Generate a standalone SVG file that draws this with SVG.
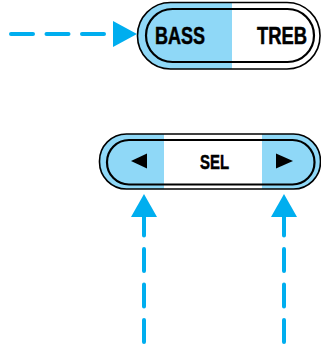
<svg xmlns="http://www.w3.org/2000/svg" width="321" height="347" viewBox="0 0 321 347">
<style>
.outer{fill:none;stroke:#000;stroke-width:1.6}
.inner{fill:none;stroke:#000;stroke-width:2.2}
.blue{fill:#8FD8F7}
.white{fill:#fff}
.lbl{font-family:"Liberation Sans",Arial,sans-serif;font-weight:bold;fill:#000;stroke:#000;stroke-width:0.5}
.conn{fill:none;stroke:#00AEEF;stroke-width:4;stroke-linecap:round;stroke-dasharray:22 13.5}
.head{fill:#00AEEF}
</style>
<defs>
<clipPath id="c1"><rect x="137.5" y="2.5" width="182.5" height="66.5" rx="33" ry="33"/></clipPath>
<clipPath id="c2"><rect x="99.5" y="134" width="221" height="55" rx="27" ry="27"/></clipPath>
</defs>
<g id="bass-treb">
<g clip-path="url(#c1)">
<rect class="blue" x="130" y="0" width="102" height="75"/>
<rect class="white" x="232" y="0" width="95" height="75"/>
</g>
<rect class="outer" x="137.5" y="2.5" width="182.5" height="66.5" rx="33" ry="33"/>
<rect class="inner" x="146" y="9" width="168" height="53" rx="26.5" ry="26.5"/>
<text class="lbl" x="155" y="44.3" font-size="23.5" textLength="50" lengthAdjust="spacingAndGlyphs">BASS</text>
<text class="lbl" x="257" y="44.3" font-size="23.5" textLength="50" lengthAdjust="spacingAndGlyphs">TREB</text>
</g>
<g id="sel">
<g clip-path="url(#c2)">
<rect class="blue" x="95" y="130" width="69" height="65"/>
<rect class="white" x="164" y="130" width="98" height="65"/>
<rect class="blue" x="262" y="130" width="65" height="65"/>
</g>
<rect class="outer" x="99.5" y="134" width="221" height="55" rx="27" ry="27"/>
<rect class="inner" x="107" y="140" width="207.5" height="44.5" rx="22" ry="22"/>
<polygon points="131,161 147,153.5 147,168.5" fill="#000"/>
<polygon points="293,161 276,153.5 276,168.5" fill="#000"/>
<text class="lbl" x="200" y="169.3" font-size="20" textLength="29" lengthAdjust="spacingAndGlyphs">SEL</text>
</g>
<g id="connectors">
<path class="conn" d="M11,34 H111"/>
<polygon class="head" points="113,21 137,34 113,47"/>
<path class="conn" d="M144,213.5 V350"/>
<polygon class="head" points="131,217 144,194 157,217"/>
<path class="conn" d="M284,213.5 V350"/>
<polygon class="head" points="271,217 284,194 297,217"/>
</g>
</svg>
